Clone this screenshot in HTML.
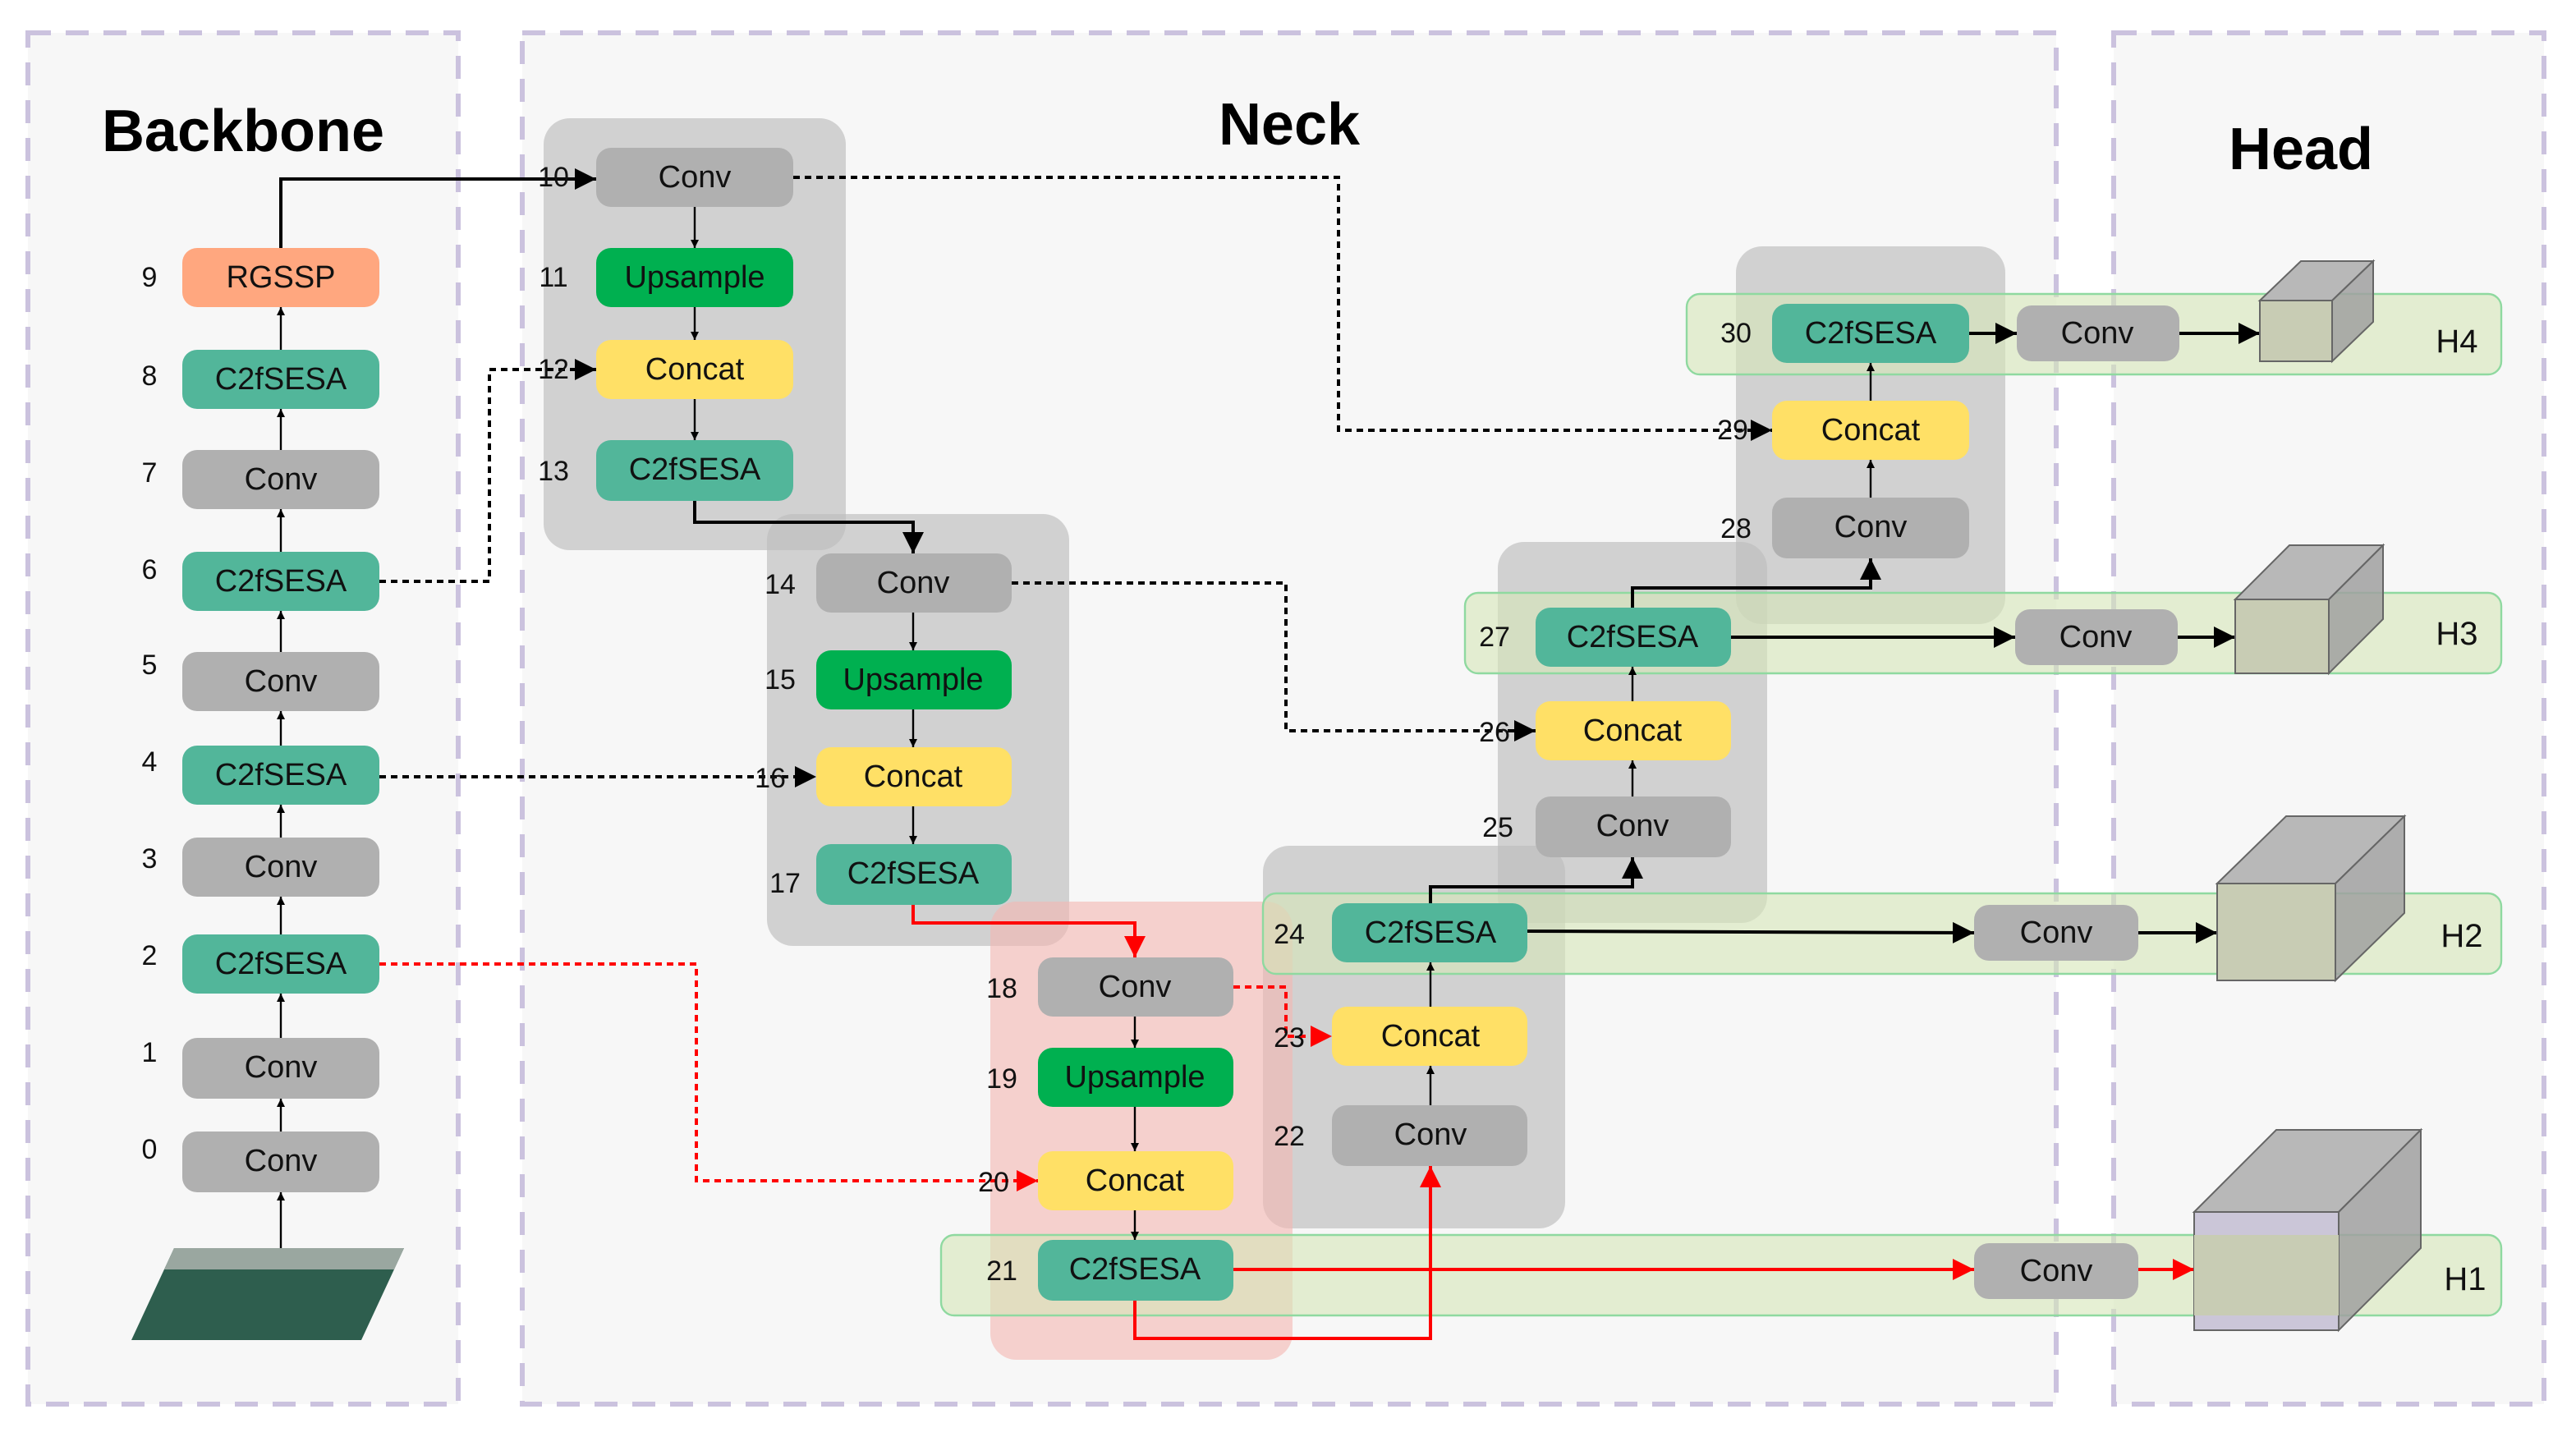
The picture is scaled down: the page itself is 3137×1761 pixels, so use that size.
<!DOCTYPE html>
<html><head><meta charset="utf-8"><style>
html,body{margin:0;padding:0;background:#fff;}
svg{display:block;}
text{font-family:"Liberation Sans",sans-serif;}
.n{font-size:19px;text-anchor:middle;dominant-baseline:central;fill:#111;}
.l{font-size:17px;text-anchor:middle;dominant-baseline:central;fill:#111;}
.t{font-size:36px;font-weight:bold;text-anchor:middle;fill:#000;}
</style></head><body>
<svg width="3137" height="1761" viewBox="0 0 1568.5 880.5" xmlns="http://www.w3.org/2000/svg">
<defs>
<marker id="a" viewBox="0 0 10 10" refX="10" refY="5" markerWidth="5" markerHeight="5" orient="auto-start-reverse" markerUnits="userSpaceOnUse"><path d="M0,0 L10,5 L0,10 z" fill="#000"/></marker>
<marker id="b" viewBox="0 0 10 10" refX="10" refY="5" markerWidth="13" markerHeight="13" orient="auto" markerUnits="userSpaceOnUse"><path d="M0,0 L10,5 L0,10 z" fill="#000"/></marker>
<marker id="r" viewBox="0 0 10 10" refX="10" refY="5" markerWidth="13" markerHeight="13" orient="auto" markerUnits="userSpaceOnUse"><path d="M0,0 L10,5 L0,10 z" fill="#f00"/></marker>
</defs>
<rect width="1568.5" height="880.5" fill="#fff"/>
<g fill="#f7f7f7" stroke="#cbc2de" stroke-width="3" stroke-dasharray="14,9">
<rect x="17" y="20" width="262" height="835"/>
<rect x="318" y="20" width="934" height="835"/>
<rect x="1287" y="20" width="262" height="835"/>
</g>
<text class="t" x="148" y="92">Backbone</text>
<text class="t" x="785" y="88">Neck</text>
<text class="t" x="1401" y="103">Head</text>

<!-- group backgrounds -->
<g fill="#bdbdbd" fill-opacity="0.65">
<rect x="331" y="72" width="184" height="263" rx="16"/>
<rect x="467" y="313" width="184" height="263" rx="16"/>
<rect x="769" y="515" width="184" height="233" rx="16"/>
<rect x="912" y="330" width="164" height="232" rx="16"/>
<rect x="1057" y="150" width="164" height="230" rx="16"/>
</g>
<rect x="603" y="549" width="184" height="279" rx="16" fill="#f4b6b0" fill-opacity="0.6"/>

<!-- green strips -->
<g fill="#d6e6b8" fill-opacity="0.6" stroke="#8fd9a0" stroke-width="1.2">
<rect x="1027" y="179" width="496" height="49" rx="8"/>
<rect x="892" y="361" width="631" height="49" rx="8"/>
<rect x="769" y="544" width="754" height="49" rx="8"/>
<rect x="573" y="752" width="950" height="49" rx="8"/>
</g>

<!-- image -->
<polygon points="106,760 246,760 220,816 80,816" fill="#2e5e4e"/>
<polygon points="106,760 246,760 240,773 100,773" fill="#9aa7a0"/>

<!-- connectors -->
<g fill="none" stroke="#000" stroke-width="1.2" marker-end="url(#a)">
<line x1="171" y1="760" x2="171" y2="726"/>
<line x1="171" y1="689" x2="171" y2="669"/>
<line x1="171" y1="632" x2="171" y2="605"/>
<line x1="171" y1="569" x2="171" y2="546"/>
<line x1="171" y1="510" x2="171" y2="490"/>
<line x1="171" y1="454" x2="171" y2="433"/>
<line x1="171" y1="397" x2="171" y2="372"/>
<line x1="171" y1="336" x2="171" y2="310"/>
<line x1="171" y1="274" x2="171" y2="249"/>
<line x1="171" y1="213" x2="171" y2="187"/>
<line x1="423" y1="126" x2="423" y2="151"/>
<line x1="423" y1="187" x2="423" y2="207"/>
<line x1="423" y1="243" x2="423" y2="268"/>
<line x1="556" y1="373" x2="556" y2="396"/>
<line x1="556" y1="432" x2="556" y2="455"/>
<line x1="556" y1="491" x2="556" y2="514"/>
<line x1="691" y1="619" x2="691" y2="638"/>
<line x1="691" y1="674" x2="691" y2="701"/>
<line x1="691" y1="737" x2="691" y2="755"/>
<line x1="871" y1="673" x2="871" y2="649"/>
<line x1="871" y1="613" x2="871" y2="586"/>
<line x1="994" y1="485" x2="994" y2="463"/>
<line x1="994" y1="427" x2="994" y2="406"/>
<line x1="1139" y1="303" x2="1139" y2="280"/>
<line x1="1139" y1="244" x2="1139" y2="221"/>
</g>
<g fill="none" stroke="#000" stroke-width="2" marker-end="url(#b)">
<polyline points="171,151 171,109 363,109"/>
<polyline points="423,305 423,318 556,318 556,337"/>
<polyline points="871,550 871,540 994,540 994,522"/>
<polyline points="994,370 994,358 1139,358 1139,340"/>
<line x1="930" y1="567" x2="1202" y2="568"/>
<line x1="1302" y1="568" x2="1350" y2="568"/>
<line x1="1054" y1="388" x2="1227" y2="388"/>
<line x1="1326" y1="388" x2="1361" y2="388"/>
<line x1="1199" y1="203" x2="1228" y2="203"/>
<line x1="1327" y1="203" x2="1376" y2="203"/>
</g>
<g fill="none" stroke="#000" stroke-width="2" stroke-dasharray="4,3" marker-end="url(#b)">
<polyline points="231,354 298,354 298,225 363,225"/>
<line x1="231" y1="473" x2="497" y2="473"/>
<polyline points="483,108 815,108 815,262 1079,262"/>
<polyline points="616,355 783,355 783,445 935,445"/>
</g>
<g fill="none" stroke="#f00" stroke-width="2" marker-end="url(#r)">
<polyline points="556,551 556,562 691,562 691,583"/>
<polyline points="691,792 691,815 871,815 871,710"/>
<line x1="751" y1="773" x2="1202" y2="773"/>
<line x1="1302" y1="773" x2="1336" y2="773"/>
</g>
<g fill="none" stroke="#f00" stroke-width="2" stroke-dasharray="4,3" marker-end="url(#r)">
<polyline points="231,587 424,587 424,719 632,719"/>
<polyline points="751,601 783,601 783,631 811,631"/>
</g>

<!-- nodes -->
<g>
<rect x="111" y="151" width="120" height="36" rx="9" fill="#ffa77f"/><text class="n" x="171" y="169">RGSSP</text>
<rect x="111" y="213" width="120" height="36" rx="9" fill="#52b69a"/><text class="n" x="171" y="231">C2fSESA</text>
<rect x="111" y="274" width="120" height="36" rx="9" fill="#b0b0b0"/><text class="n" x="171" y="292">Conv</text>
<rect x="111" y="336" width="120" height="36" rx="9" fill="#52b69a"/><text class="n" x="171" y="354">C2fSESA</text>
<rect x="111" y="397" width="120" height="36" rx="9" fill="#b0b0b0"/><text class="n" x="171" y="415">Conv</text>
<rect x="111" y="454" width="120" height="36" rx="9" fill="#52b69a"/><text class="n" x="171" y="472">C2fSESA</text>
<rect x="111" y="510" width="120" height="36" rx="9" fill="#b0b0b0"/><text class="n" x="171" y="528">Conv</text>
<rect x="111" y="569" width="120" height="36" rx="9" fill="#52b69a"/><text class="n" x="171" y="587">C2fSESA</text>
<rect x="111" y="632" width="120" height="37" rx="9" fill="#b0b0b0"/><text class="n" x="171" y="650">Conv</text>
<rect x="111" y="689" width="120" height="37" rx="9" fill="#b0b0b0"/><text class="n" x="171" y="707">Conv</text>

<rect x="363" y="90" width="120" height="36" rx="9" fill="#b0b0b0"/><text class="n" x="423" y="108">Conv</text>
<rect x="363" y="151" width="120" height="36" rx="9" fill="#00b050"/><text class="n" x="423" y="169">Upsample</text>
<rect x="363" y="207" width="120" height="36" rx="9" fill="#ffe066"/><text class="n" x="423" y="225">Concat</text>
<rect x="363" y="268" width="120" height="37" rx="9" fill="#52b69a"/><text class="n" x="423" y="286">C2fSESA</text>

<rect x="497" y="337" width="119" height="36" rx="9" fill="#b0b0b0"/><text class="n" x="556" y="355">Conv</text>
<rect x="497" y="396" width="119" height="36" rx="9" fill="#00b050"/><text class="n" x="556" y="414">Upsample</text>
<rect x="497" y="455" width="119" height="36" rx="9" fill="#ffe066"/><text class="n" x="556" y="473">Concat</text>
<rect x="497" y="514" width="119" height="37" rx="9" fill="#52b69a"/><text class="n" x="556" y="532">C2fSESA</text>

<rect x="632" y="583" width="119" height="36" rx="9" fill="#b0b0b0"/><text class="n" x="691" y="601">Conv</text>
<rect x="632" y="638" width="119" height="36" rx="9" fill="#00b050"/><text class="n" x="691" y="656">Upsample</text>
<rect x="632" y="701" width="119" height="36" rx="9" fill="#ffe066"/><text class="n" x="691" y="719">Concat</text>
<rect x="632" y="755" width="119" height="37" rx="9" fill="#52b69a"/><text class="n" x="691" y="773">C2fSESA</text>

<rect x="811" y="550" width="119" height="36" rx="9" fill="#52b69a"/><text class="n" x="871" y="568">C2fSESA</text>
<rect x="811" y="613" width="119" height="36" rx="9" fill="#ffe066"/><text class="n" x="871" y="631">Concat</text>
<rect x="811" y="673" width="119" height="37" rx="9" fill="#b0b0b0"/><text class="n" x="871" y="691">Conv</text>

<rect x="935" y="370" width="119" height="36" rx="9" fill="#52b69a"/><text class="n" x="994" y="388">C2fSESA</text>
<rect x="935" y="427" width="119" height="36" rx="9" fill="#ffe066"/><text class="n" x="994" y="445">Concat</text>
<rect x="935" y="485" width="119" height="37" rx="9" fill="#b0b0b0"/><text class="n" x="994" y="503">Conv</text>

<rect x="1079" y="185" width="120" height="36" rx="9" fill="#52b69a"/><text class="n" x="1139" y="203">C2fSESA</text>
<rect x="1079" y="244" width="120" height="36" rx="9" fill="#ffe066"/><text class="n" x="1139" y="262">Concat</text>
<rect x="1079" y="303" width="120" height="37" rx="9" fill="#b0b0b0"/><text class="n" x="1139" y="321">Conv</text>

<rect x="1228" y="186" width="99" height="34" rx="9" fill="#b0b0b0"/><text class="n" x="1277" y="203">Conv</text>
<rect x="1227" y="371" width="99" height="34" rx="9" fill="#b0b0b0"/><text class="n" x="1276" y="388">Conv</text>
<rect x="1202" y="551" width="100" height="34" rx="9" fill="#b0b0b0"/><text class="n" x="1252" y="568">Conv</text>
<rect x="1202" y="757" width="100" height="34" rx="9" fill="#b0b0b0"/><text class="n" x="1252" y="774">Conv</text>
</g>

<!-- cubes -->
<g stroke="#666" stroke-width="1">
<polygon points="1376,183 1401,159 1445,159 1420,183" fill="#b8b8b8"/>
<polygon points="1420,183 1445,159 1445,196 1420,220" fill="#a0a0a0" fill-opacity="0.85"/>
<rect x="1376" y="183" width="44" height="37" fill="#c8ccb4"/>
<polygon points="1361,365 1394,332 1451,332 1418,365" fill="#b8b8b8"/>
<polygon points="1418,365 1451,332 1451,377 1418,410" fill="#a0a0a0" fill-opacity="0.85"/>
<rect x="1361" y="365" width="57" height="45" fill="#c8ccb4"/>
<polygon points="1350,538 1392,497 1464,497 1422,538" fill="#b8b8b8"/>
<polygon points="1422,538 1464,497 1464,556 1422,597" fill="#a0a0a0" fill-opacity="0.85"/>
<rect x="1350" y="538" width="72" height="59" fill="#c8ccb4"/>
<polygon points="1336,738 1386,688 1474,688 1424,738" fill="#b8b8b8"/>
<polygon points="1424,738 1474,688 1474,760 1424,810" fill="#a0a0a0" fill-opacity="0.85"/>
<rect x="1336" y="738" width="88" height="72" fill="#cbc6d8"/>
<rect x="1336" y="752" width="88" height="49" fill="#c8ccb4" stroke="none"/>
</g>
<g class="n" style="font-size:20px">
<text class="n" x="1496" y="208" style="font-size:20px">H4</text>
<text class="n" x="1496" y="386" style="font-size:20px">H3</text>
<text class="n" x="1499" y="570" style="font-size:20px">H2</text>
<text class="n" x="1501" y="779" style="font-size:20px">H1</text>
</g>

<!-- layer labels -->
<g>
<text class="l" x="91" y="169">9</text><text class="l" x="91" y="229">8</text><text class="l" x="91" y="288">7</text>
<text class="l" x="91" y="347">6</text><text class="l" x="91" y="405">5</text><text class="l" x="91" y="464">4</text>
<text class="l" x="91" y="523">3</text><text class="l" x="91" y="582">2</text><text class="l" x="91" y="641">1</text>
<text class="l" x="91" y="700">0</text>
<text class="l" x="337" y="108">10</text><text class="l" x="337" y="169">11</text><text class="l" x="337" y="225">12</text><text class="l" x="337" y="287">13</text>
<text class="l" x="475" y="356">14</text><text class="l" x="475" y="414">15</text><text class="l" x="469" y="474">16</text><text class="l" x="478" y="538">17</text>
<text class="l" x="610" y="602">18</text><text class="l" x="610" y="657">19</text><text class="l" x="605" y="720">20</text><text class="l" x="610" y="774">21</text>
<text class="l" x="785" y="569">24</text><text class="l" x="785" y="632">23</text><text class="l" x="785" y="692">22</text>
<text class="l" x="910" y="388">27</text><text class="l" x="910" y="446">26</text><text class="l" x="912" y="504">25</text>
<text class="l" x="1057" y="203">30</text><text class="l" x="1055" y="262">29</text><text class="l" x="1057" y="322">28</text>
</g>
</svg>
</body></html>
